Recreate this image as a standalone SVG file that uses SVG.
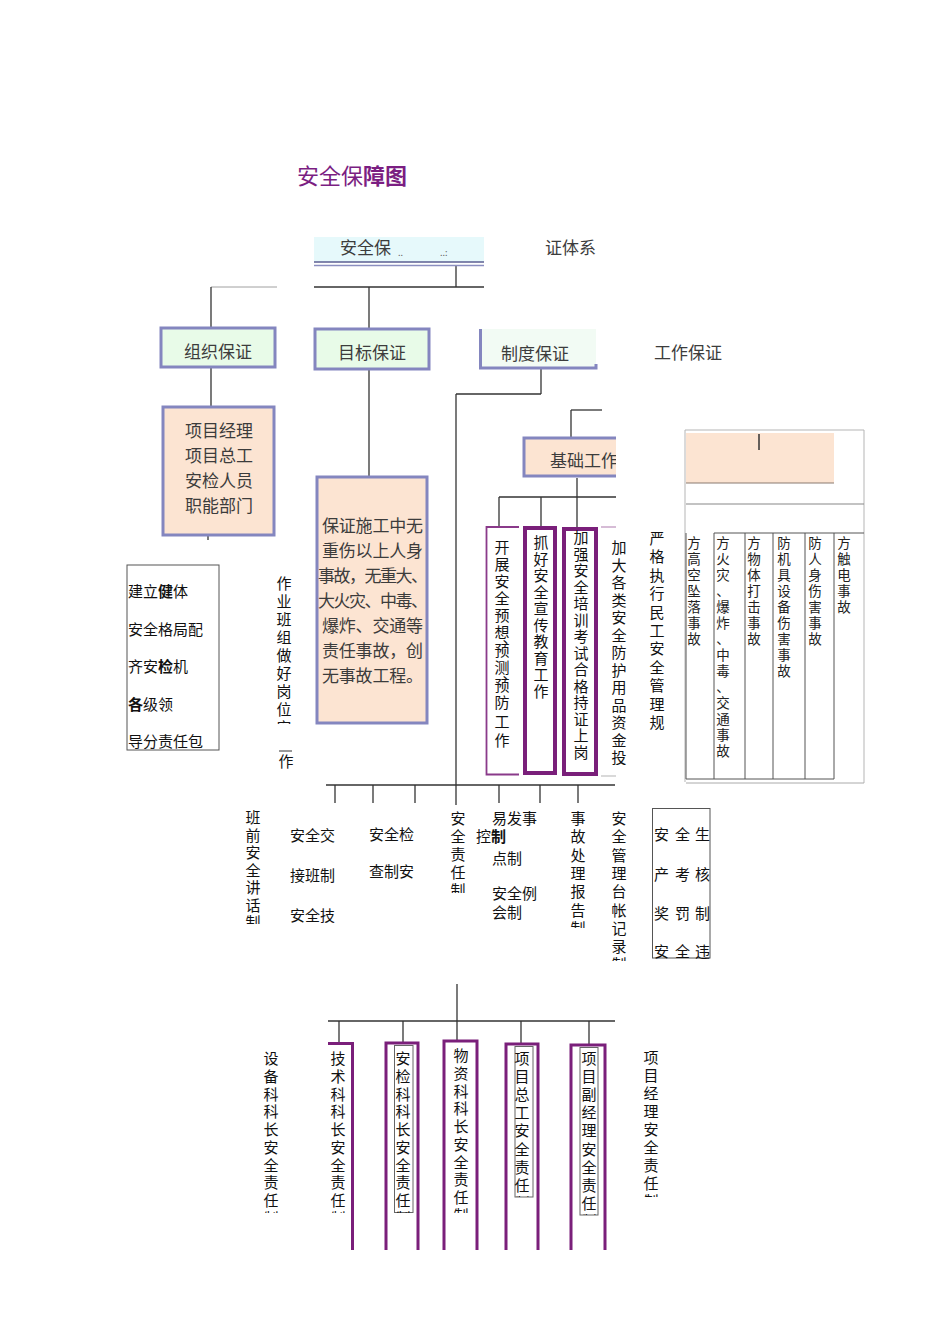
<svg xmlns="http://www.w3.org/2000/svg" width="950" height="1344" viewBox="0 0 950 1344">
<defs>
<style>
text{font-family:"Noto Sans CJK SC","Noto Sans CJK JP",sans-serif;}
.k{font-size:15px;fill:#111}
.m{text-anchor:middle}
.r{font-size:17px;fill:#3c3c3c}
.ln{stroke:#333;stroke-width:1.3;fill:none}
.lg{stroke:#a0a0a0;stroke-width:1;fill:none}
.bb{stroke:#8486BF;stroke-width:3}
.pk{stroke:#7A1F7A;stroke-width:4;fill:none}
.pt{stroke:#7A1F7A;stroke-width:3;fill:none}
.pn{stroke:#8A3A8A;stroke-width:1.8;fill:none}
.sm{font-size:13.5px;fill:#222}
.ib{stroke:#666;stroke-width:1;fill:none}
</style>
<clipPath id="cF"><rect x="270" y="570" width="30" height="154"/></clipPath>
<clipPath id="cG"><rect x="240" y="805" width="30" height="119"/></clipPath>
<clipPath id="cH"><rect x="445" y="805" width="30" height="88"/></clipPath>
<clipPath id="cI"><rect x="565" y="805" width="30" height="123"/></clipPath>
<clipPath id="cJ"><rect x="605" y="805" width="30" height="156"/></clipPath>
<clipPath id="cK"><rect x="250" y="1040" width="230" height="173"/></clipPath>
<clipPath id="cO"><rect x="505" y="1040" width="35" height="157"/><rect x="638" y="1040" width="30" height="157"/></clipPath>
<clipPath id="cP"><rect x="570" y="1040" width="36" height="175"/></clipPath>
<clipPath id="cJC"><rect x="520" y="436" width="96" height="44"/></clipPath>
</defs>
<rect width="950" height="1344" fill="#fff"/>

<text x="297" y="184" font-size="22" fill="#7B1E82">安全保<tspan font-weight="bold">障图</tspan></text>

<g id="connectors">
<line class="ln" x1="456" y1="265" x2="456" y2="287"/>
<line class="lg" x1="211" y1="287" x2="277" y2="287"/>
<line class="ln" x1="314" y1="287" x2="484" y2="287"/>
<line class="ln" x1="211" y1="287" x2="211" y2="327"/>
<line class="ln" x1="369" y1="287" x2="369" y2="328"/>
<line class="ln" x1="211" y1="368" x2="211" y2="406"/>
<line class="ln" x1="369" y1="370" x2="369" y2="476"/>
<line class="ln" x1="208" y1="535" x2="208" y2="540"/>
<line class="ln" x1="541" y1="369" x2="541" y2="394"/>
<line class="ln" x1="456" y1="394" x2="541" y2="394"/>
<line class="ln" x1="456" y1="394" x2="456" y2="805"/>
<line class="ln" x1="571" y1="410" x2="602" y2="410"/>
<line class="ln" x1="571" y1="410" x2="571" y2="437"/>
<line class="ln" x1="577" y1="478" x2="577" y2="528"/>
<line class="ln" x1="499" y1="497" x2="616" y2="497"/>
<line class="ln" x1="499" y1="497" x2="499" y2="526"/>
<line class="ln" x1="541" y1="497" x2="541" y2="527"/>
<line class="ln" x1="326" y1="785" x2="615" y2="785"/>
<line class="ln" x1="335" y1="785" x2="335" y2="803"/>
<line class="ln" x1="373" y1="785" x2="373" y2="803"/>
<line class="ln" x1="415" y1="785" x2="415" y2="803"/>
<line class="ln" x1="499" y1="785" x2="499" y2="803"/>
<line class="ln" x1="540" y1="785" x2="540" y2="803"/>
<line class="ln" x1="578" y1="785" x2="578" y2="803"/>
<line class="ln" x1="457" y1="984" x2="457" y2="1040"/>
<line class="ln" x1="328" y1="1021" x2="615" y2="1021"/>
<line class="ln" x1="339" y1="1021" x2="339" y2="1043"/>
<line class="ln" x1="403" y1="1021" x2="403" y2="1042"/>
<line class="ln" x1="521" y1="1021" x2="521" y2="1044"/>
<line class="ln" x1="589" y1="1021" x2="589" y2="1045"/>
</g>

<g id="n-root">
<rect x="314" y="237" width="170" height="25" fill="#E6F9FB"/>
<line x1="314" y1="262" x2="484" y2="262" stroke="#5B5E92" stroke-width="1.5"/>
<line x1="314" y1="265.5" x2="484" y2="265.5" stroke="#8B8EC0" stroke-width="1.5"/>
<text x="340" y="254" class="r" font-size="19">安全保</text>
<text x="398" y="256" font-size="9" fill="#666">..</text>
<text x="440" y="256" font-size="9" fill="#666">..:</text>
<text x="545" y="254" class="r" font-size="19">证体系</text>
</g>

<g id="n-zuzhi">
<rect x="161" y="328" width="114" height="39" fill="#E8FBE8" class="bb"/>
<text x="218" y="358" class="r m">组织保证</text>
</g>
<g id="n-mubiao">
<rect x="315" y="329" width="114" height="40" fill="#E8FBE8" class="bb"/>
<text x="372" y="359" class="r m">目标保证</text>
</g>
<g id="n-zhidu">
<rect x="479" y="329" width="117" height="39" fill="#F2FBF4"/>
<path d="M480.5 329 V368 H596 V364" class="bb" fill="none"/>
<text x="535" y="360" class="r m">制度保证</text>
</g>
<g id="n-gongzuo">
<text x="654" y="359" class="r">工作保证</text>
</g>

<g id="n-renyuan">
<rect x="163" y="407" width="111" height="128" fill="#FCE4D2" class="bb"/>
<text x="219" y="437" class="r m" font-size="16.5">项目经理</text>
<text x="219" y="462" class="r m" font-size="16.5">项目总工</text>
<text x="219" y="487" class="r m" font-size="16.5">安检人员</text>
<text x="219" y="512" class="r m" font-size="16.5">职能部门</text>
</g>

<g id="n-mubiaotext">
<rect x="317" y="477" width="110" height="246" fill="#FCE4D2" class="bb"/>
<text x="322" y="532" class="r" font-size="16.5" textLength="101">保证施工中无</text>
<text x="322" y="557" class="r" font-size="16.5" textLength="101">重伤以上人身</text>
<text x="318" y="582" class="r" font-size="16.5" textLength="110">事故，无重大、</text>
<text x="318" y="607" class="r" font-size="16.5" textLength="110">大火灾、中毒、</text>
<text x="322" y="632" class="r" font-size="16.5" textLength="101">爆炸、交通等</text>
<text x="322" y="657" class="r" font-size="16.5" textLength="101">责任事故，创</text>
<text x="322" y="682" class="r" font-size="16.5" textLength="101">无事故工程。</text>
</g>

<g id="n-jianli">
<rect x="127" y="565" width="92" height="185" fill="none" stroke="#555" stroke-width="1"/>
<text x="128" y="597" class="k">建立<tspan font-weight="bold">健</tspan>体</text>
<text x="128" y="635" class="k">安全格局配</text>
<text x="128" y="672" class="k">齐安<tspan font-weight="bold">检</tspan>机</text>
<text x="128" y="710" class="k"><tspan font-weight="bold">各</tspan>级领</text>
<text x="128" y="747" class="k">导分责任包</text>
</g>

<g id="n-banzu">
<text class="k m" clip-path="url(#cF)" x="284 284 284 284 284 284 284 284 284" y="589 607 625 643 661 679 697 715 733">作业班组做好岗位安</text>
<line x1="279" y1="751" x2="292" y2="751" stroke="#333" stroke-width="1"/>
<text x="286" y="767" class="k m">作</text>
</g>

<g id="n-jichu">
<rect x="523" y="437" width="93" height="40" fill="#FCE4D2"/>
<path d="M616 438 H524 V476 H616" class="bb" fill="none"/>
<text x="550" y="467" class="r" clip-path="url(#cJC)">基础工作</text>
</g>

<g id="n-yuxiang">
<path d="M519 527 H486.5 V774.5 H519" class="pn"/>
<text class="k m" x="502 502 502 502 502 502 510 502 502 510 502 502 502 502" y="553 570 587 604 621 638 643 656 673 679 691 708 727 746">开展安全预想、预测、预防工作</text>
</g>
<g id="n-xuanchuan">
<rect x="525" y="528" width="30" height="245" class="pk"/>
<text class="k m" x="541 541 541 541 541 541 541 541 541 541" y="548 564.5 581 597.5 614 630.5 647 663.5 680 696.5">抓好安全宣传教育工作</text>
</g>
<g id="n-peixun">
<rect x="564" y="529" width="32" height="245" class="pk"/>
<text class="k m" x="581 581 581 581 581 581 581 581 581 581 581 581 581 581" y="543 559.5 576 592.5 609 625.5 642 658.5 675 691.5 708 724.5 741 757.5">加强安全培训考试合格持证上岗</text>
</g>
<g id="n-fanghu">
<line x1="601" y1="527" x2="616" y2="527" stroke="#C9A6C9" stroke-width="1.5"/>
<line x1="601" y1="776" x2="616" y2="776" stroke="#ccc" stroke-width="1.5"/>
<text class="k m" x="619 619 619 619 619 619 619 619 619 619 619 619 619" y="553 570.5 588 605.5 623 640.5 658 675.5 693 710.5 728 745.5 763">加大各类安全防护用品资金投</text>
</g>
<g id="n-mingong">
<text class="k m" x="657 657 657 657 657 657 657 657 657 657 657" y="544 562.4 580.8 599.2 617.6 636 654.4 672.8 691.2 709.6 728">严格执行民工安全管理规</text>
</g>

<g id="n-fangfan">
<path d="M685 782 V430 H864 V783" fill="none" stroke="#b5b5b5" stroke-width="1"/>
<rect x="686" y="433" width="148" height="50" fill="#FCE4D2"/>
<line x1="686" y1="483" x2="834" y2="483" stroke="#8a7a70" stroke-width="1.2"/>
<line x1="759" y1="434" x2="759" y2="450" stroke="#333" stroke-width="1.5"/>
<line x1="686" y1="504" x2="864" y2="504" stroke="#888" stroke-width="1.2"/>
<line x1="714" y1="533" x2="864" y2="533" stroke="#555" stroke-width="1"/>
<g stroke="#555" stroke-width="1">
<line x1="686" y1="533" x2="686" y2="779"/>
<line x1="714" y1="533" x2="714" y2="779"/>
<line x1="745" y1="533" x2="745" y2="779"/>
<line x1="773" y1="533" x2="773" y2="779"/>
<line x1="805" y1="533" x2="805" y2="779"/>
<line x1="834" y1="533" x2="834" y2="779"/>
<line x1="686" y1="779" x2="834" y2="779"/>
</g>
<line x1="686" y1="783" x2="864" y2="783" stroke="#aaa" stroke-width="1"/>
<text class="sm m" x="694 694 694 694 694 694 694" y="548 564 580 596 612 628 644">方高空坠落事故</text>
<text class="sm m" x="723 723 723 723 723 723 723 723 723 723 723 723 723 723" y="548 564 580 596 612 628 644 660 676 692 708 724 740 756">方火灾、爆炸、中毒、交通事故</text>
<text class="sm m" x="754 754 754 754 754 754 754" y="548 564 580 596 612 628 644">方物体打击事故</text>
<text class="sm m" x="784 784 784 784 784 784 784 784 784" y="548 564 580 596 612 628 644 660 676">防机具设备伤害事故</text>
<text class="sm m" x="815 815 815 815 815 815 815" y="548 564 580 596 612 628 644">防人身伤害事故</text>
<text class="sm m" x="844 844 844 844 844" y="548 564 580 596 612">方触电事故</text>
</g>

<g id="n-banqian">
<text class="k m" clip-path="url(#cG)" x="253 253 253 253 253 253 253" y="823 840.5 858 875.5 893 910.5 928">班前安全讲话制</text>
</g>
<g id="n-jiaojie">
<text x="290" y="841" class="k">安全交</text>
<text x="290" y="881" class="k">接班制</text>
<text x="290" y="921" class="k">安全技</text>
</g>
<g id="n-jiancha">
<text x="369" y="840" class="k">安全检</text>
<text x="369" y="877" class="k">查制安</text>
</g>
<g id="n-zeren">
<text class="k m" clip-path="url(#cH)" x="458 458 458 458 458" y="824 842 860 878 896">安全责任制</text>
</g>
<g id="n-yifa">
<text x="492" y="824" class="k">易发事</text>
<text x="476" y="842" class="k">控<tspan x="491" font-weight="bold">制</tspan></text>
<text x="492" y="864" class="k">点制</text>
<text x="492" y="899" class="k">安全例</text>
<text x="492" y="918" class="k">会制</text>
</g>
<g id="n-shigu">
<text class="k m" clip-path="url(#cI)" x="578 578 578 578 578 578 578" y="824 842.3 860.6 878.9 897.2 915.5 933.8">事故处理报告制</text>
</g>
<g id="n-taizhang">
<text class="k m" clip-path="url(#cJ)" x="619 619 619 619 619 619 619 619 619" y="824 842.3 860.6 878.9 897.2 915.5 933.8 952.1 970.4">安全管理台帐记录制</text>
</g>
<g id="n-kaohe">
<rect x="652.5" y="808.5" width="57.5" height="149.5" fill="none" stroke="#555" stroke-width="1"/>
<text class="k" x="654 675 695" y="840">安全生</text>
<text class="k" x="654 675 695" y="880">产考核</text>
<text class="k" x="654 675 695" y="919">奖罚制</text>
<text class="k" x="654 675 695" y="957">安全违</text>
</g>

<g id="n-shebei">
<text class="k m" clip-path="url(#cK)" x="271 271 271 271 271 271 271 271 271 271" y="1064 1081.75 1099.5 1117.25 1135 1152.75 1170.5 1188.25 1206 1223.75">设备科科长安全责任制</text>
</g>
<g id="n-jishu">
<path d="M328 1043.5 H352.5 V1250" class="pt"/>
<text class="k m" clip-path="url(#cK)" x="338 338 338 338 338 338 338 338 338 338" y="1064 1081.75 1099.5 1117.25 1135 1152.75 1170.5 1188.25 1206 1223.75">技术科科长安全责任制</text>
</g>
<g id="n-anjian">
<path d="M386 1250 V1043 H418 V1250" class="pt"/>
<rect x="394.5" y="1045.5" width="18.5" height="167" class="ib"/>
<text class="k m" clip-path="url(#cK)" x="403 403 403 403 403 403 403 403 403 403" y="1064 1081.75 1099.5 1117.25 1135 1152.75 1170.5 1188.25 1206 1223.75">安检科科长安全责任制</text>
</g>
<g id="n-wuzi">
<path d="M444 1250 V1041 H477 V1250" class="pt"/>
<text class="k m" clip-path="url(#cK)" x="461 461 461 461 461 461 461 461 461 461" y="1061 1078.75 1096.5 1114.25 1132 1149.75 1167.5 1185.25 1203 1220.75">物资科科长安全责任制</text>
</g>
<g id="n-zonggong">
<path d="M506 1250 V1044 H538 V1250" class="pt"/>
<rect x="515" y="1046.5" width="18" height="150.5" class="ib"/>
<text class="k m" clip-path="url(#cO)" x="522 522 522 522 522 522 522 522 522" y="1064 1082.1 1100.2 1118.3 1136.4 1154.5 1172.6 1190.7 1208.8">项目总工安全责任制</text>
</g>
<g id="n-fujingli">
<path d="M571 1250 V1045 H605 V1250" class="pt"/>
<rect x="580" y="1047.5" width="18" height="167.5" class="ib"/>
<text class="k m" clip-path="url(#cP)" x="589 589 589 589 589 589 589 589 589 589" y="1064 1082.1 1100.2 1118.3 1136.4 1154.5 1172.6 1190.7 1208.8 1226.9">项目副经理安全责任制</text>
</g>
<g id="n-jingli">
<text class="k m" clip-path="url(#cO)" x="651 651 651 651 651 651 651 651 651" y="1063 1081 1099 1117 1135 1153 1171 1189 1207">项目经理安全责任制</text>
</g>
</svg>
